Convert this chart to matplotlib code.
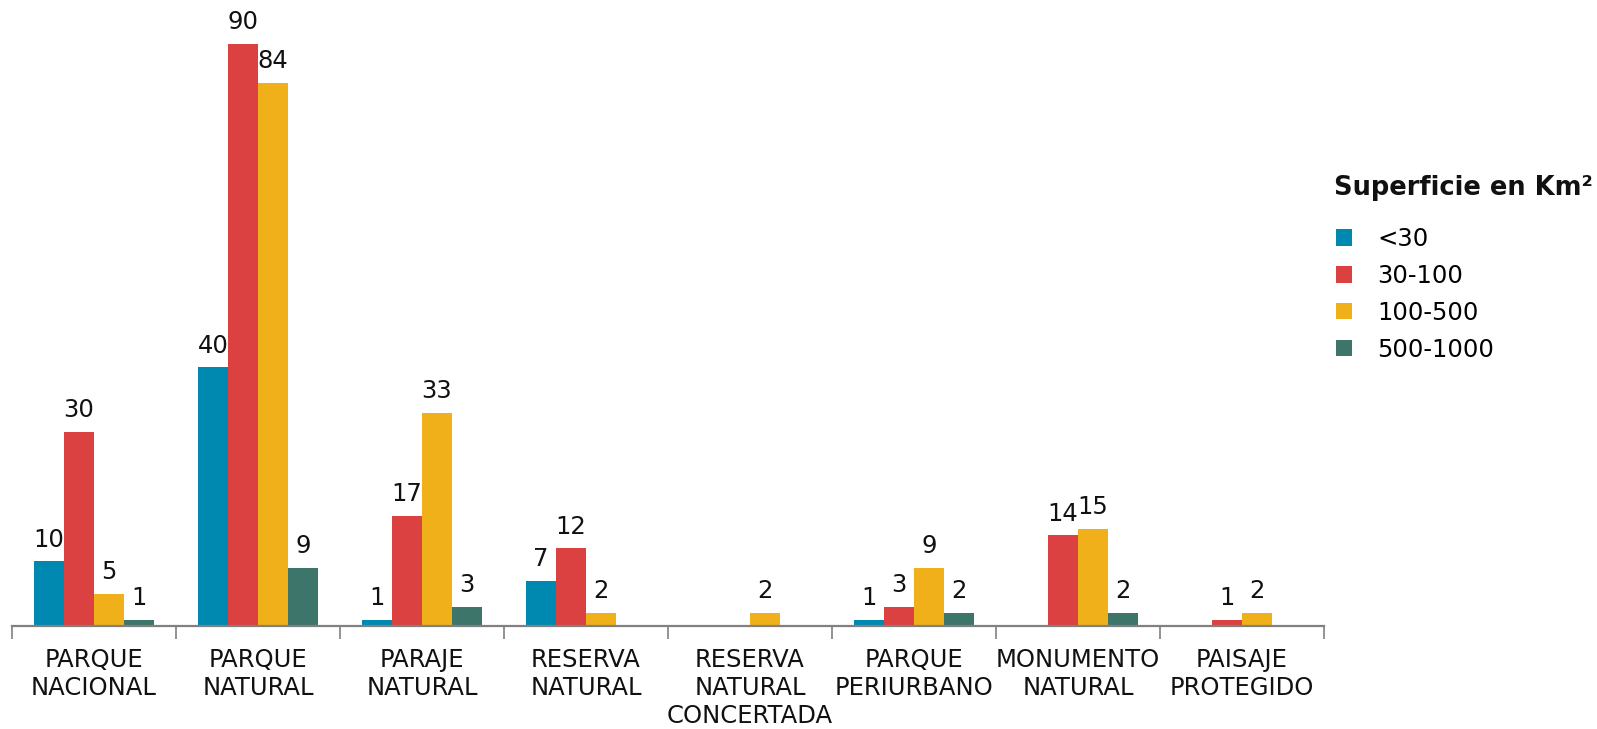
import numpy as np
import matplotlib
matplotlib.use("Agg")
import matplotlib.pyplot as plt
from matplotlib.patches import Patch

# ------------------------------
# Data
# ------------------------------
categories = ["PARQUE\nNACIONAL", "PARQUE\nNATURAL", "PARAJE\nNATURAL",
              "RESERVA\nNATURAL", "RESERVA\nNATURAL\nCONCERTADA",
              "PARQUE\nPERIURBANO", "MONUMENTO\nNATURAL", "PAISAJE\nPROTEGIDO"]
series_names = ["<30", "30-100", "100-500", "500-1000"]
lt30 = [10, 40, 1, 7, 0, 1, 0, 0]
s30_100 = [30, 90, 17, 12, 0, 3, 14, 1]
s100_500 = [5, 84, 33, 2, 2, 9, 15, 2]
s500_1000 = [1, 9, 3, 0, 0, 2, 2, 0]
series = [lt30, s30_100, s100_500, s500_1000]
colors = ["#0089B0", "#DB4141", "#F0B01A", "#3E756B"]

plt.rcParams['font.family'] = ['DejaVu Sans']

W, H = 1597, 729
fig = plt.figure(figsize=(W / 100, H / 100), dpi=100)
ax = fig.add_axes([12 / W, (H - 626) / H, 1312 / W, 626 / H])

x = np.arange(len(categories))
bw = 0.183
for j, (vals, col) in enumerate(zip(series, colors)):
    pos = x + (j - 1.5) * bw
    ax.bar(pos, vals, width=bw, color=col, linewidth=0)
    for p, v in zip(pos, vals):
        if v > 0:
            ax.annotate(str(v), (p, v), xytext=(0, 7), textcoords="offset points",
                        ha="center", va="bottom", fontsize=17.5, color="#111111")

ax.set_xlim(-0.5, len(categories) - 0.5)
ax.set_ylim(0, 96.8)

for s in ["top", "right", "left"]:
    ax.spines[s].set_visible(False)
ax.spines["bottom"].set_color("#808080")
ax.spines["bottom"].set_linewidth(1.6)
ax.set_yticks([])

ax.set_xticks(x)
ax.set_xticklabels(categories, fontsize=17.5, color="#111111", linespacing=1.2)
ax.tick_params(axis="x", which="major", length=0, pad=16)
ax.set_xticks(np.arange(len(categories) + 1) - 0.5, minor=True)
ax.tick_params(axis="x", which="minor", length=9, width=1.2, color="#808080")

# legend
fig.text(1334 / W, 1 - 188 / H, "Superficie en Km²", fontsize=18.5,
         fontweight="bold", ha="left", va="center", color="#111111")
handles = [Patch(facecolor=c, edgecolor="none") for c in colors]
leg = fig.legend(handles, series_names, loc="upper left",
                 bbox_to_anchor=(1336 / W, 1 - 227 / H), frameon=False,
                 fontsize=17.5, borderpad=0, borderaxespad=0,
                 handlelength=0.66, handleheight=0.66,
                 handletextpad=1.05, labelspacing=0.53)

fig.savefig("out.png", dpi=100, facecolor="white")
